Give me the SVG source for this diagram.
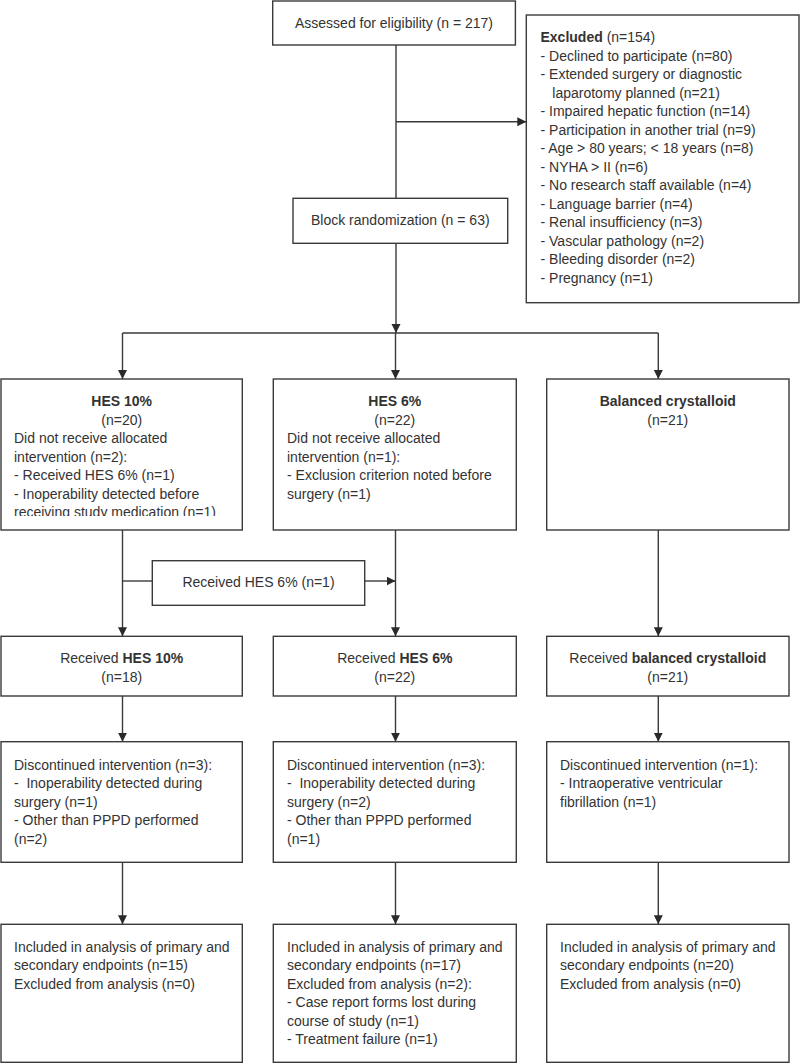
<svg xmlns="http://www.w3.org/2000/svg" width="800" height="1063" viewBox="0 0 800 1063">
<style>
.box{fill:#fff;stroke:#3a3a3a;stroke-width:1.4}
.ln{fill:none;stroke:#3a3a3a;stroke-width:1.4}
.t{font-family:"Liberation Sans",Arial,sans-serif;font-size:14px;fill:#333;white-space:pre}
.c{text-anchor:middle}
.b{font-weight:bold}
</style>
<defs>
<marker id="ah" markerUnits="userSpaceOnUse" markerWidth="10" markerHeight="10" refX="9" refY="4.5" orient="auto">
<path d="M0,0 L9,4.5 L0,9 z" fill="#2a2a2a"/>
</marker>
<clipPath id="clip1"><rect x="0" y="380" width="243" height="136"/></clipPath>
</defs>
<rect width="800" height="1063" fill="#fff"/>
<g id="connectors">
<line class="ln" x1="396" y1="45" x2="396" y2="198.3"/>
<line class="ln" x1="396" y1="121.7" x2="526.3" y2="121.7" marker-end="url(#ah)"/>
<line class="ln" x1="396" y1="243.3" x2="396" y2="333" marker-end="url(#ah)"/>
<line class="ln" x1="122.5" y1="333" x2="658.3" y2="333"/>
<line class="ln" x1="122.5" y1="333" x2="122.5" y2="379" marker-end="url(#ah)"/>
<line class="ln" x1="395.5" y1="333" x2="395.5" y2="379" marker-end="url(#ah)"/>
<line class="ln" x1="658.3" y1="333" x2="658.3" y2="379" marker-end="url(#ah)"/>
<line class="ln" x1="122.5" y1="530" x2="122.5" y2="636.3" marker-end="url(#ah)"/>
<line class="ln" x1="122.5" y1="581" x2="152.3" y2="581"/>
<line class="ln" x1="364.7" y1="581" x2="395.5" y2="581" marker-end="url(#ah)"/>
<line class="ln" x1="395.5" y1="530" x2="395.5" y2="636.3" marker-end="url(#ah)"/>
<line class="ln" x1="658.3" y1="530" x2="658.3" y2="636.3" marker-end="url(#ah)"/>
<line class="ln" x1="122.5" y1="696" x2="122.5" y2="741.7" marker-end="url(#ah)"/>
<line class="ln" x1="395.5" y1="696" x2="395.5" y2="741.7" marker-end="url(#ah)"/>
<line class="ln" x1="658.3" y1="696" x2="658.3" y2="741.7" marker-end="url(#ah)"/>
<line class="ln" x1="122.5" y1="862.3" x2="122.5" y2="924.3" marker-end="url(#ah)"/>
<line class="ln" x1="395.5" y1="862.3" x2="395.5" y2="924.3" marker-end="url(#ah)"/>
<line class="ln" x1="658.3" y1="862.3" x2="658.3" y2="924.3" marker-end="url(#ah)"/>
</g>
<g id="assessed">
<rect class="box" x="272.7" y="1" width="242.7" height="44"/>
<text class="t c" x="394" y="27.7">Assessed for eligibility (n = 217)</text>
</g>
<g id="excluded">
<rect class="box" x="526.3" y="15" width="272.7" height="287.7"/>
<text class="t" x="540.5" y="42"><tspan class="b">Excluded</tspan> (n=154)</text>
<text class="t" x="540.5" y="60.5">- Declined to participate (n=80)</text>
<text class="t" x="540.5" y="79">- Extended surgery or diagnostic</text>
<text class="t" x="552.3" y="97.5">laparotomy planned (n=21)</text>
<text class="t" x="540.5" y="116">- Impaired hepatic function (n=14)</text>
<text class="t" x="540.5" y="134.5">- Participation in another trial (n=9)</text>
<text class="t" x="540.5" y="153">- Age &gt; 80 years; &lt; 18 years (n=8)</text>
<text class="t" x="540.5" y="171.5">- NYHA &gt; II (n=6)</text>
<text class="t" x="540.5" y="190">- No research staff available (n=4)</text>
<text class="t" x="540.5" y="208.5">- Language barrier (n=4)</text>
<text class="t" x="540.5" y="227">- Renal insufficiency (n=3)</text>
<text class="t" x="540.5" y="245.5">- Vascular pathology (n=2)</text>
<text class="t" x="540.5" y="264">- Bleeding disorder (n=2)</text>
<text class="t" x="540.5" y="282.5">- Pregnancy (n=1)</text>
</g>
<g id="randomization">
<rect class="box" x="293" y="198.3" width="214.7" height="45"/>
<text class="t c" x="400.3" y="225">Block randomization (n = 63)</text>
</g>
<g id="hes10">
<rect class="box" x="1" y="379" width="241.3" height="151"/>
<text class="t c b" x="121.7" y="406">HES 10%</text>
<text class="t c" x="121.7" y="424.5">(n=20)</text>
<text class="t" x="14" y="443">Did not receive allocated</text>
<text class="t" x="14" y="461.5">intervention (n=2):</text>
<text class="t" x="14" y="480">- Received HES 6% (n=1)</text>
<text class="t" x="14" y="498.5">- Inoperability detected before</text>
<text class="t" x="14" y="517" clip-path="url(#clip1)">receiving study medication (n=1)</text>
</g>
<g id="hes6">
<rect class="box" x="273.3" y="379" width="243" height="151"/>
<text class="t c b" x="394.8" y="406">HES 6%</text>
<text class="t c" x="394.8" y="424.5">(n=22)</text>
<text class="t" x="287" y="443">Did not receive allocated</text>
<text class="t" x="287" y="461.5">intervention (n=1):</text>
<text class="t" x="287" y="480">- Exclusion criterion noted before</text>
<text class="t" x="287" y="498.5">surgery (n=1)</text>
</g>
<g id="balanced">
<rect class="box" x="546.7" y="379" width="242.3" height="151"/>
<text class="t c b" x="667.8" y="406">Balanced crystalloid</text>
<text class="t c" x="667.8" y="424.5">(n=21)</text>
</g>
<g id="crossover">
<rect class="box" x="152.3" y="560.7" width="212.4" height="44.6"/>
<text class="t c" x="258.5" y="587">Received HES 6% (n=1)</text>
</g>
<g id="recv10">
<rect class="box" x="1" y="636.3" width="241.3" height="59.7"/>
<text class="t c" x="121.7" y="663">Received <tspan class="b">HES 10%</tspan></text>
<text class="t c" x="121.7" y="682">(n=18)</text>
</g>
<g id="recv6">
<rect class="box" x="273.3" y="636.3" width="243" height="59.7"/>
<text class="t c" x="394.8" y="663">Received <tspan class="b">HES 6%</tspan></text>
<text class="t c" x="394.8" y="682">(n=22)</text>
</g>
<g id="recvbal">
<rect class="box" x="546.7" y="636.3" width="242.3" height="59.7"/>
<text class="t c" x="667.8" y="663">Received <tspan class="b">balanced crystalloid</tspan></text>
<text class="t c" x="667.8" y="682">(n=21)</text>
</g>
<g id="disc10">
<rect class="box" x="1" y="741.7" width="241.3" height="120.6"/>
<text class="t" x="14" y="769.5">Discontinued intervention (n=3):</text>
<text class="t" x="14" y="788">-  Inoperability detected during</text>
<text class="t" x="14" y="806.5">surgery (n=1)</text>
<text class="t" x="14" y="825">- Other than PPPD performed</text>
<text class="t" x="14" y="843.5">(n=2)</text>
</g>
<g id="disc6">
<rect class="box" x="273.3" y="741.7" width="243" height="120.6"/>
<text class="t" x="287" y="769.5">Discontinued intervention (n=3):</text>
<text class="t" x="287" y="788">-  Inoperability detected during</text>
<text class="t" x="287" y="806.5">surgery (n=2)</text>
<text class="t" x="287" y="825">- Other than PPPD performed</text>
<text class="t" x="287" y="843.5">(n=1)</text>
</g>
<g id="discbal">
<rect class="box" x="546.7" y="741.7" width="242.3" height="120.6"/>
<text class="t" x="560" y="769.5">Discontinued intervention (n=1):</text>
<text class="t" x="560" y="788">- Intraoperative ventricular</text>
<text class="t" x="560" y="806.5">fibrillation (n=1)</text>
</g>
<g id="incl10">
<rect class="box" x="1" y="924.3" width="241.3" height="138"/>
<text class="t" x="14" y="951.5">Included in analysis of primary and</text>
<text class="t" x="14" y="970">secondary endpoints (n=15)</text>
<text class="t" x="14" y="988.5">Excluded from analysis (n=0)</text>
</g>
<g id="incl6">
<rect class="box" x="273.3" y="924.3" width="243" height="138"/>
<text class="t" x="287" y="951.5">Included in analysis of primary and</text>
<text class="t" x="287" y="970">secondary endpoints (n=17)</text>
<text class="t" x="287" y="988.5">Excluded from analysis (n=2):</text>
<text class="t" x="287" y="1007">- Case report forms lost during</text>
<text class="t" x="287" y="1025.5">course of study (n=1)</text>
<text class="t" x="287" y="1044">- Treatment failure (n=1)</text>
</g>
<g id="inclbal">
<rect class="box" x="546.7" y="924.3" width="242.3" height="138"/>
<text class="t" x="560" y="951.5">Included in analysis of primary and</text>
<text class="t" x="560" y="970">secondary endpoints (n=20)</text>
<text class="t" x="560" y="988.5">Excluded from analysis (n=0)</text>
</g>
</svg>
